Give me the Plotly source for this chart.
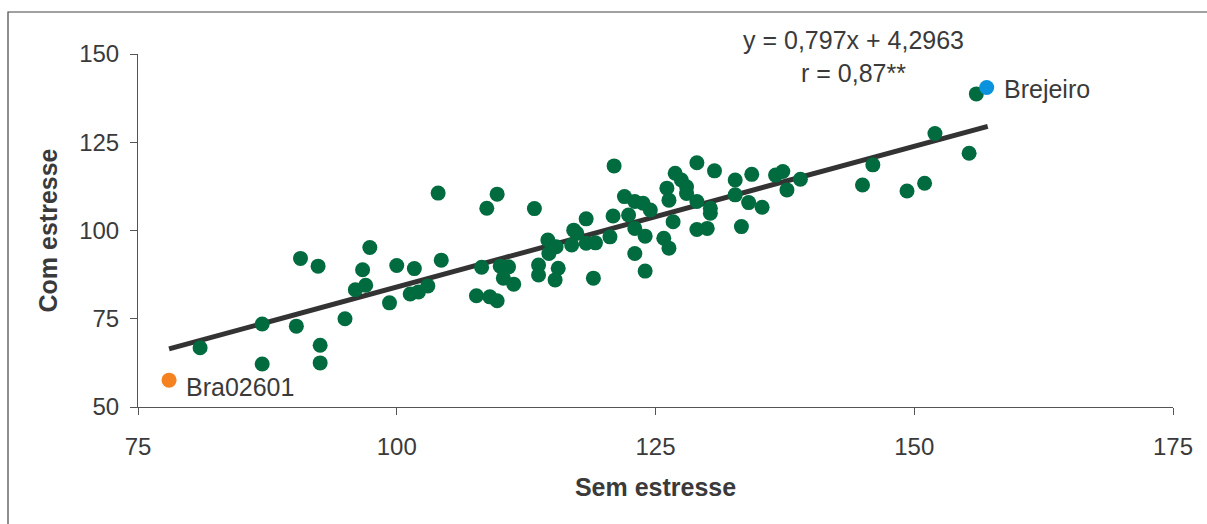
import plotly.graph_objects as go

# Genótipos: rendimento relativo sem e com estresse
sem_estresse = [
    81.0, 87.0, 87.0, 90.3, 90.7, 92.4, 92.6, 92.6, 95.0, 96.0,
    97.0, 96.7, 97.4, 99.3, 100.0, 101.7, 101.3, 102.1, 103.0, 104.0,
    104.3, 107.7, 108.2, 108.7, 109.7, 109.0, 109.7, 110.0, 110.8, 110.3,
    111.3, 113.3, 113.7, 113.7, 114.6, 114.7, 115.4, 115.6, 115.3, 117.1,
    117.4, 116.9, 118.3, 118.3, 119.2, 119.0, 120.6, 121.0, 120.9, 122.0,
    122.4, 123.0, 123.0, 123.8, 124.5, 123.0, 124.0, 124.0, 125.8, 126.3,
    126.7, 126.1, 126.9, 126.3, 127.5, 128.0, 128.0, 129.0, 129.0, 129.0,
    130.0, 130.3, 130.3, 130.7, 132.7, 132.7, 133.3, 134.0, 134.3, 135.3,
    136.6, 137.3, 137.7, 139.0, 146.0, 145.0, 149.3, 151.0, 152.0, 155.3,
    156.0,
]
com_estresse = [
    66.8, 62.2, 73.5, 72.9, 92.1, 89.9, 67.5, 62.5, 75.0, 83.2,
    84.5, 88.9, 95.2, 79.5, 90.1, 89.2, 82.0, 82.6, 84.3, 110.6,
    91.6, 81.5, 89.6, 106.3, 110.3, 81.2, 80.1, 89.9, 89.7, 86.5,
    84.8, 106.2, 90.2, 87.4, 97.3, 93.5, 95.4, 89.3, 86.0, 100.1,
    99.2, 95.9, 103.3, 96.4, 96.5, 86.5, 98.2, 118.3, 104.1, 109.6,
    104.4, 93.5, 108.2, 107.7, 105.8, 100.6, 98.4, 88.5, 97.8, 95.0,
    102.5, 112.0, 116.2, 108.6, 114.3, 112.4, 110.5, 119.2, 108.2, 100.3,
    100.6, 106.3, 104.9, 116.9, 114.3, 110.1, 101.1, 107.9, 115.9, 106.6,
    115.7, 116.7, 111.5, 114.5, 118.6, 112.9, 111.2, 113.4, 127.5, 121.9,
    138.7,
]

# Genótipos destacados
destaque_nomes = ["Bra02601", "Brejeiro"]
destaque_x = [78.0, 157.0]
destaque_y = [57.6, 140.5]
destaque_cores = ["#F5821F", "#0A93DC"]

# Reta de regressão
coef_a = 0.797
coef_b = 4.2963
reta_x = [78.0, 157.1]
reta_y = [coef_a * v + coef_b for v in reta_x]

ticks_x = [75, 100, 125, 150, 175]
ticks_y = [50, 75, 100, 125, 150]

TXT = "#3a3a3a"
FONT = "Liberation Sans, Arial, Helvetica, sans-serif"

fig = go.Figure()

fig.add_trace(go.Scatter(
    x=reta_x, y=reta_y, mode="lines",
    line=dict(color="#333333", width=5),
    hoverinfo="skip", showlegend=False,
))

fig.add_trace(go.Scatter(
    x=sem_estresse, y=com_estresse, mode="markers",
    marker=dict(color="#006B3F", size=15, line=dict(width=0)),
    showlegend=False,
))

fig.add_trace(go.Scatter(
    x=destaque_x, y=destaque_y, mode="markers",
    marker=dict(color=destaque_cores, size=15, line=dict(width=0)),
    showlegend=False,
))

# Rótulos dos genótipos destacados
for nome, xv, yv in zip(destaque_nomes, destaque_x, destaque_y):
    fig.add_annotation(
        x=xv, y=yv, xref="x", yref="y", text=nome, showarrow=False,
        xanchor="left", yanchor="middle",
        xshift=15,
        yshift=-7 if nome == "Bra02601" else -1,
        font=dict(family=FONT, size=25, color=TXT),
    )

# Equação e correlação
fig.add_annotation(
    x=0.691, y=1.0, xref="paper", yref="paper",
    text=f"y = {str(coef_a).replace('.', ',')}x + {str(coef_b).replace('.', ',')}<br>r = 0,87**",
    showarrow=False, xanchor="center", yanchor="middle", align="center",
    yshift=-2, font=dict(family=FONT, size=25, color=TXT),
)

# Moldura externa do gráfico
fig.add_shape(
    type="rect", xref="paper", yref="paper",
    x0=-0.1256, x1=1.2, y0=-0.6, y1=1.119,
    line=dict(color="#444444", width=1.2), fillcolor="rgba(0,0,0,0)",
)

axis_common = dict(
    showgrid=False, zeroline=False, showline=True,
    linecolor="#555555", linewidth=1,
    ticks="outside", ticklen=7, tickcolor="#555555", tickwidth=1,
    tickfont=dict(family=FONT, size=24, color=TXT),
)

fig.update_xaxes(
    range=[75, 175], tickvals=ticks_x,
    title=dict(text="<b>Sem estresse</b>", standoff=19,
               font=dict(family=FONT, size=25, color=TXT)),
    ticklabelstandoff=11,
    **axis_common,
)
fig.update_yaxes(
    range=[50, 150], tickvals=ticks_y,
    title=dict(text="<b>Com estresse</b>", standoff=14,
               font=dict(family=FONT, size=25, color=TXT)),
    ticklabelstandoff=6,
    **axis_common,
)

fig.update_layout(
    width=1207, height=524,
    margin=dict(l=138, r=34, t=54, b=117, autoexpand=False),
    plot_bgcolor="white", paper_bgcolor="white",
    showlegend=False,
)

fig.write_html("out.html")
